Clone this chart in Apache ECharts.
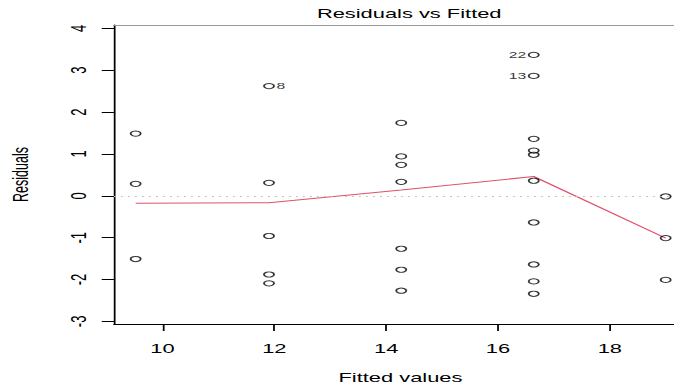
<!DOCTYPE html>
<html>
<head>
<meta charset="utf-8">
<script src="https://cdn.jsdelivr.net/npm/echarts@6/dist/echarts.min.js"></script>
<style>
  html, body { margin: 0; padding: 0; background: #fff; overflow: hidden; width: 674px; height: 385px; }
  #wrap { width: 400px; height: 385px; transform: scaleX(1.7506); transform-origin: 0 0; }
</style>
</head>
<body>
<div id="wrap"></div>
<script>
// ---- data ----
const fittedValues = [9.52, 11.905, 14.27, 16.64, 19.0];
const residualsG1 = [1.487, 0.286, -1.51];
const residualsG2 = [2.62, 0.31, -0.96, -1.88, -2.09];
const residualsG3 = [1.742, 0.94, 0.74, 0.334, -1.265, -1.766, -2.267];
const residualsG4 = [3.365, 2.864, 1.36, 1.08, 0.98, 0.36, -0.637, -1.64, -2.045, -2.34];
const residualsG5 = [-0.016, -1.01, -2.01];
const smoothValues = [-0.175, -0.167, 0.139, 0.461, -1.01];
// [group index, residual, observation id]
const labelledPoints = [[1, 2.62, '8'], [3, 2.864, '13'], [3, 3.365, '22']];
const xTicks = [10, 12, 14, 16, 18];
const yTicks = [-3, -2, -1, 0, 1, 2, 3, 4];
const titleText = 'Residuals vs Fitted';
const xName = 'Fitted values';
const yName = 'Residuals';

// ---- build ----
const groups = [residualsG1, residualsG2, residualsG3, residualsG4, residualsG5];
const points = [];
groups.forEach((g, i) => g.forEach(r => points.push([fittedValues[i], r])));
const xMid = (Math.min(...fittedValues) + Math.max(...fittedValues)) / 2;
const labelData = labelledPoints.map(([gi, r, id]) => {
  const x = fittedValues[gi];
  return { value: [x, r], label: { show: true, formatter: id, position: x < xMid ? 'right' : 'left' } };
});
const smoothData = fittedValues.map((x, i) => [x, smoothValues[i]]);

const FONT = '"Liberation Sans", Arial, Helvetica, sans-serif';
const chart = echarts.init(document.getElementById('wrap'), null, { renderer: 'svg', width: 400, height: 385 });
const xMin = 9.132, xMax = 19.38;
chart.setOption({
  animation: false,
  backgroundColor: '#fff',
  textStyle: { fontFamily: FONT, color: '#000' },
  title: {
    text: titleText, left: 228.75, textAlign: 'center', top: 2,
    textStyle: { fontFamily: FONT, fontSize: 12.5, fontWeight: 'normal', color: '#000' }
  },
  grid: { left: 65.1, top: 25, width: 327.3, height: 299, containLabel: false, outerBoundsMode: 'none' },
  xAxis: [{
    type: 'value', min: xMin, max: xMax, position: 'bottom',
    name: xName, nameLocation: 'middle', nameGap: 47,
    nameTextStyle: { fontFamily: FONT, fontSize: 12.5, color: '#000' },
    axisLine: { show: true, onZero: false, lineStyle: { color: '#000', width: 1 } },
    axisTick: { show: true, length: 7, customValues: xTicks, lineStyle: { color: '#000' } },
    axisLabel: { show: true, customValues: xTicks, margin: 18, fontSize: 12.5, color: '#000', fontFamily: FONT },
    splitLine: { show: false }
  }, {
    type: 'value', min: xMin, max: xMax, position: 'top',
    axisLine: { show: true, onZero: false, lineStyle: { color: '#999', width: 1 } },
    axisTick: { show: false }, axisLabel: { show: false }, splitLine: { show: false }
  }],
  yAxis: {
    type: 'value', min: -3.062, max: 4.08,
    name: yName, nameLocation: 'middle', nameGap: 47, nameRotate: 90,
    nameTextStyle: { fontFamily: FONT, fontSize: 12.5, color: '#000' },
    axisLine: { show: true, onZero: false, lineStyle: { color: '#000', width: 1 } },
    axisTick: { show: true, length: 7, customValues: yTicks, lineStyle: { color: '#000' } },
    axisLabel: { show: true, customValues: yTicks, rotate: 90, margin: 14, fontSize: 13, color: '#000', fontFamily: FONT },
    splitLine: { show: false }
  },
  series: [{
    type: 'scatter', data: points, symbol: 'circle', symbolSize: [5.8, 5.2],
    itemStyle: { color: 'rgba(255,255,255,0)', borderColor: '#000', borderWidth: 1 },
    emphasis: { disabled: true }, silent: true, z: 3
  }, {
    type: 'scatter', data: labelData, symbol: 'circle', symbolSize: 5.5,
    itemStyle: { color: 'rgba(255,255,255,0)', borderColor: 'rgba(255,255,255,0)', borderWidth: 0 },
    label: { fontFamily: FONT, fontSize: 9, color: '#000', distance: 1.5 },
    emphasis: { disabled: true }, silent: true, z: 4
  }, {
    type: 'line', data: smoothData, showSymbol: false, symbol: 'none',
    lineStyle: { color: '#DF536B', width: 1 }, silent: true, z: 2,
    markLine: {
      silent: true, symbol: ['none', 'none'], label: { show: false },
      lineStyle: { color: '#BEBEBE', type: [1, 3], width: 1 },
      data: [{ yAxis: 0 }]
    }
  }]
});
</script>
</body>
</html>
